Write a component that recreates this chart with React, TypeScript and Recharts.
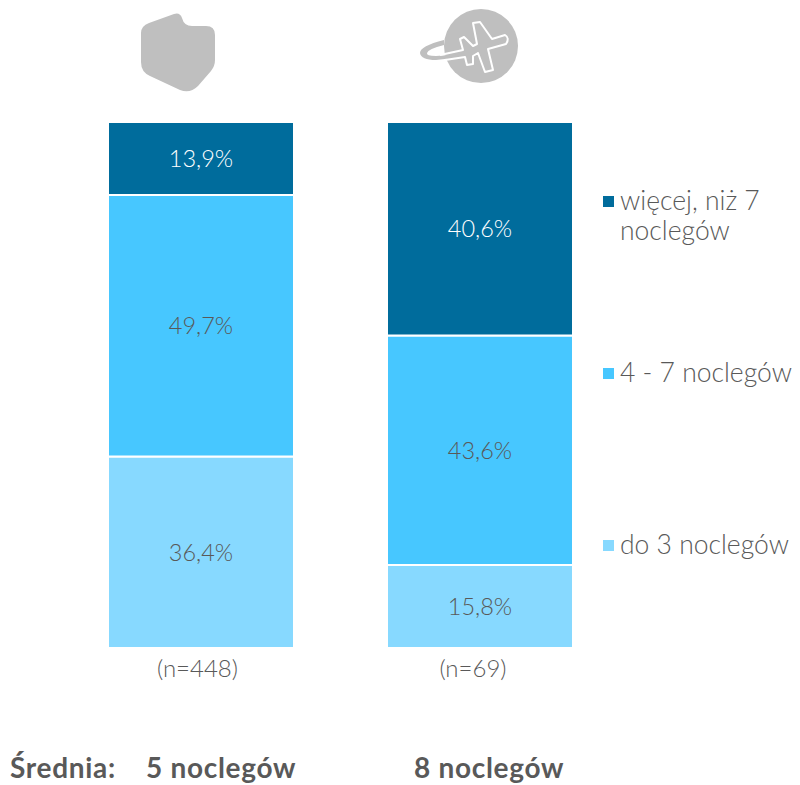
import { Bar, BarChart, LabelList, Legend, XAxis, YAxis } from "recharts";

const samples = ["(n=448)", "(n=69)"];
const upTo3 = [36.4, 15.8];
const from4To7 = [49.7, 43.6];
const over7 = [13.9, 40.6];
const seriesNames = ["do 3 noclegów", "4 - 7 noclegów", "więcej, niż 7 noclegów"];
const averages = ["5 noclegów", "8 noclegów"];

const data = samples.map((sample, i) => ({
  sample,
  [seriesNames[0]]: upTo3[i],
  [seriesNames[1]]: from4To7[i],
  [seriesNames[2]]: over7[i],
}));

const FONT = "Lato, 'Open Sans', sans-serif";
const GREY = "#595959";
const ICON = "#bfbfbf";
const COLORS = ["#87d9ff", "#47c7ff", "#006c9c"];
const LEGEND_TOPS = [529, 357, 185];
const TICK_SHIFTS = [-3.5, -7];

const percent = (v: any) => String(v).replace(".", ",") + "%";

// the n= labels sit a little left of the bar centres in the original
const SampleTick = ({ x, y, payload, index }: any) => (
  <text
    x={x + TICK_SHIFTS[index]}
    y={y}
    dy="0.71em"
    textAnchor="middle"
    fill={GREY}
    fontSize={24}
    fontWeight={300}
    fontFamily={FONT}
  >
    {payload.value}
  </text>
);

const LegendItems = ({ payload }: any) => (
  <div style={{ position: "relative", width: 200, height: 785 }}>
    {(payload || []).map((item: any) => {
      const i = seriesNames.indexOf(item.value);
      return (
        <div key={item.value} style={{ position: "absolute", top: LEGEND_TOPS[i], left: 0, width: 200 }}>
          <span
            style={{ position: "absolute", left: 3, top: 11, width: 11, height: 11, background: COLORS[i] }}
          />
          <div
            style={{
              marginLeft: 20,
              width: 180,
              fontSize: 26.5,
              fontWeight: 300,
              lineHeight: "30px",
              color: GREY,
              fontFamily: FONT,
            }}
          >
            {item.value}
          </div>
        </div>
      );
    })}
  </div>
);

const Icons = () => (
  <svg width={800} height={100} style={{ position: "absolute", left: 0, top: 0 }}>
    <path
      d="M149 23 L174 14 Q180 12 182 18 Q184 26 192 26 L206 26 Q215 26 215 35 L215 60 Q215 66 211 71 L198 86 Q190 94 180 90 L150 76 Q141 72 141 62 L141 33 Q141 26 149 23 Z"
      fill={ICON}
    />
    <circle cx={481} cy={46} r={37} fill={ICON} />
    <path
      d="M444 40 Q420 46 420 53 Q421 60 436 60 L462 57 L462 54 L436 56 Q426 56 427 53 Q428 49 444 45 Z"
      fill={ICON}
    />
    <path
      d="M440 55 L463 50 L460 39 L464 37 L473 46 L477 44 L473 23 L480 22 L492 39 L505 35 Q510 38 506 44 L488 49 L493 70 L485 72 L478 53 L473 56 L473 64 L467 65 L465 57 L445 60"
      fill="none"
      stroke="#ffffff"
      strokeWidth={2}
      strokeLinejoin="round"
    />
  </svg>
);

const App = () => {
  return (
    <div style={{ position: "absolute", left: 0, top: 0, width: 800, height: 785, background: "#fff", overflow: "hidden" }}>
      <Icons />
      <BarChart
        width={800}
        height={785}
        data={data}
        barCategoryGap={46.5}
        margin={{ top: 122, right: 180.5, bottom: 107, left: 61.5 }}
        style={{ position: "absolute", left: 0, top: 0 }}
      >
        <XAxis dataKey="sample" axisLine={false} tickLine={false} tickMargin={6} tick={<SampleTick />} />
        <YAxis hide type="number" domain={[0, 100]} />
        {seriesNames.map((name, i) => (
          <Bar key={name} dataKey={name} stackId="a" fill={COLORS[i]} stroke="#ffffff" strokeWidth={2} isAnimationActive={false}>
            <LabelList
              dataKey={name}
              position="center"
              formatter={percent}
              fill={i === 2 ? "#ffffff" : GREY}
              fontSize={23.5}
              fontWeight={300}
              fontFamily={FONT}
            />
          </Bar>
        ))}
        <Legend
          layout="horizontal"
          verticalAlign="middle"
          align="center"
          content={<LegendItems />}
          wrapperStyle={{ left: 600, top: 0, width: 200, height: 785 }}
        />
      </BarChart>
      <div style={{ fontFamily: FONT, fontWeight: 700, fontSize: 28, letterSpacing: 0.7, color: GREY, lineHeight: "30px" }}>
        <span style={{ position: "absolute", left: 10, top: 752 }}>Średnia:</span>
        <span style={{ position: "absolute", left: 146, top: 752 }}>{averages[0]}</span>
        <span style={{ position: "absolute", left: 414, top: 752 }}>{averages[1]}</span>
      </div>
    </div>
  );
};

export default App;
